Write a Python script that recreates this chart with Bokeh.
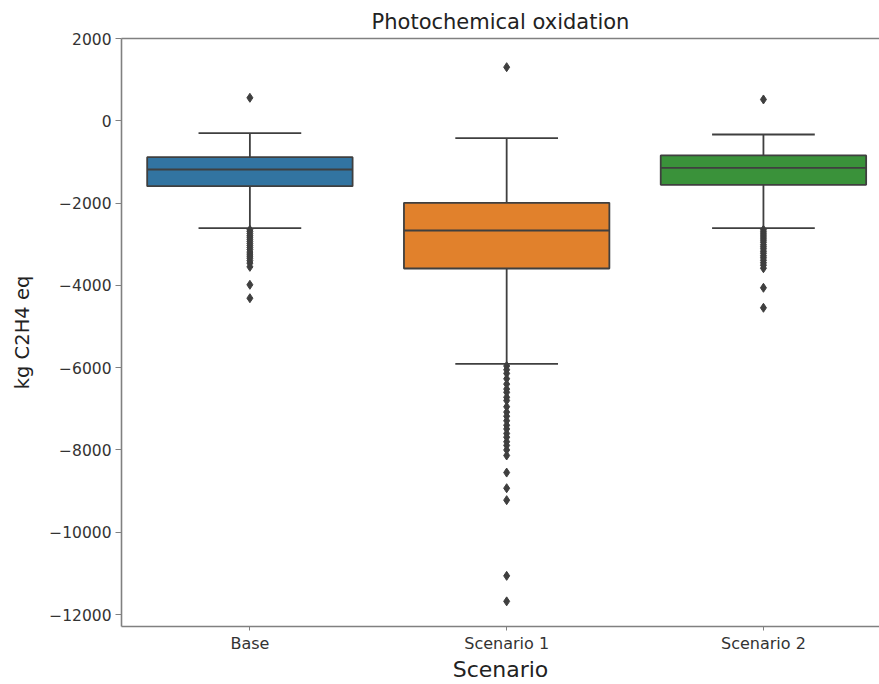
from bokeh.plotting import figure
from bokeh.models import Range1d, FixedTicker, LinearAxis, ColumnDataSource
from bokeh.embed import file_html
from bokeh.resources import INLINE

# ---- data ----
scenarios = ["Base", "Scenario 1", "Scenario 2"]
q1 = [-1590, -3590, -1556]
median = [-1184, -2666, -1143]
q3 = [-885, -1993, -843]
whisker_low = [-2610, -5906, -2610]
whisker_high = [-301, -423, -333]
box_colors = ["#3274a1", "#e1812c", "#3a923a"]

outliers_base = [559, -2650, -2690, -2740, -2790, -2830, -2880, -2930, -2980, -3030,
                 -3080, -3130, -3190, -3240, -3290, -3340, -3400, -3460, -3550,
                 -3986, -4312]
outliers_s1 = [1303, -5960, -6050, -6140, -6270, -6400, -6520, -6600, -6720, -6800,
               -6950, -7080, -7180, -7290, -7400, -7490, -7600, -7690, -7800,
               -7890, -8000, -8135, -8550, -8930, -9220, -11060, -11680]
outliers_s2 = [518, -2650, -2700, -2750, -2800, -2850, -2900, -2950, -3010, -3060,
               -3110, -3170, -3220, -3280, -3330, -3390, -3450, -3510, -3583,
               -4059, -4545]
outliers = [outliers_base, outliers_s1, outliers_s2]

y_ticks = [-12000, -10000, -8000, -6000, -4000, -2000, 0, 2000]
y_tick_labels = ["\u221212000", "\u221210000", "\u22128000", "\u22126000",
                 "\u22124000", "\u22122000", "0", "2000"]

title_text = "Photochemical oxidation"
x_label = "Scenario"
y_label = "kg C2H4 eq"

# ---- figure ----
EDGE = "#3f3f3f"
SPINE = "#808080"
FONT = "DejaVu Sans"

xs = list(range(len(scenarios)))

p = figure(width=879, height=684, output_backend="svg", toolbar_location=None,
           x_range=Range1d(-0.5, 2.452), y_range=Range1d(-12291, 2000),
           min_border_left=121, min_border_right=0, min_border_top=38,
           min_border_bottom=58)
p.title.text = title_text
p.title.align = "center"
p.title.text_font = FONT
p.title.text_font_size = "21px"
p.title.text_font_style = "normal"
p.title.text_color = "#222222"
p.title.standoff = 9
p.outline_line_color = None
p.xgrid.visible = False
p.ygrid.visible = False
p.background_fill_color = "white"

# boxes
src = ColumnDataSource(dict(x=xs, q1=q1, q3=q3, med=median, lo=whisker_low,
                            hi=whisker_high, color=box_colors,
                            x0=[x - 0.4 for x in xs], x1=[x + 0.4 for x in xs],
                            c0=[x - 0.2 for x in xs], c1=[x + 0.2 for x in xs]))
# whiskers
p.segment(x0="x", y0="q3", x1="x", y1="hi", source=src, line_color=EDGE, line_width=1.8)
p.segment(x0="x", y0="q1", x1="x", y1="lo", source=src, line_color=EDGE, line_width=1.8)
p.segment(x0="c0", y0="hi", x1="c1", y1="hi", source=src, line_color=EDGE, line_width=1.8)
p.segment(x0="c0", y0="lo", x1="c1", y1="lo", source=src, line_color=EDGE, line_width=1.8)
p.vbar(x="x", width=0.8, bottom="q1", top="q3", source=src, fill_color="color",
       line_color=EDGE, line_width=1.8)
p.segment(x0="x0", y0="med", x1="x1", y1="med", source=src, line_color=EDGE, line_width=1.8)

# outliers
ox, oy = [], []
for i, vals in enumerate(outliers):
    ox += [i] * len(vals)
    oy += vals
p.scatter(ox, oy, marker="diamond", size=9, fill_color=EDGE, line_color=EDGE)

# axes
xa = p.xaxis[0]
xa.ticker = FixedTicker(ticks=xs)
xa.major_label_overrides = {i: s for i, s in enumerate(scenarios)}
xa.minor_tick_line_color = None
xa.axis_label = x_label
xa.axis_label_text_font = FONT
xa.axis_label_text_font_size = "22px"
xa.axis_label_text_font_style = "normal"
xa.axis_label_text_color = "#222222"
xa.axis_label_standoff = 1
xa.major_label_text_font = FONT
xa.major_label_text_font_size = "16px"
xa.major_label_text_color = "#333333"
xa.major_label_standoff = 3
xa.major_tick_out = 4
xa.major_tick_in = 0
xa.axis_line_color = SPINE
xa.axis_line_width = 1.6
xa.major_tick_line_color = SPINE

ya = p.yaxis[0]
ya.ticker = FixedTicker(ticks=y_ticks)
ya.major_label_overrides = {v: s for v, s in zip(y_ticks, y_tick_labels)}
ya.minor_tick_line_color = None
ya.axis_label = y_label
ya.axis_label_text_font = FONT
ya.axis_label_text_font_size = "19.5px"
ya.axis_label_text_font_style = "normal"
ya.axis_label_text_color = "#222222"
ya.axis_label_standoff = 12
ya.major_label_text_font = FONT
ya.major_label_text_font_size = "15.5px"
ya.major_label_text_color = "#333333"
ya.major_label_standoff = 4
ya.major_tick_out = 6
ya.major_tick_in = 0
ya.axis_line_color = SPINE
ya.axis_line_width = 1.6
ya.major_tick_line_color = SPINE

# top spine
top = LinearAxis(ticker=FixedTicker(ticks=[]), major_label_text_font_size="0px",
                 major_tick_line_color=None, minor_tick_line_color=None,
                 axis_line_color=SPINE, axis_line_width=1.6)
p.add_layout(top, "above")

open("out.html", "w").write(file_html(p, INLINE))
